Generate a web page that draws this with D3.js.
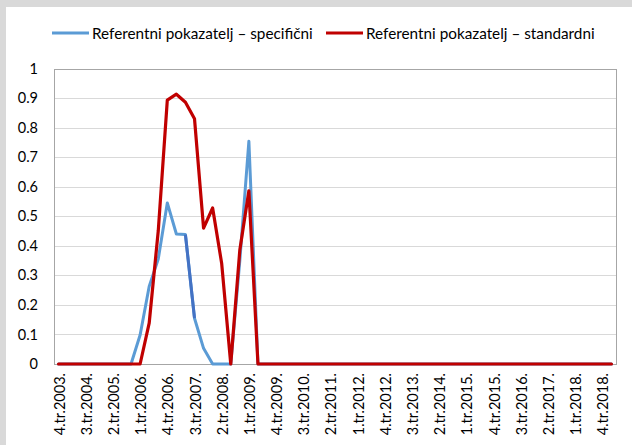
<!DOCTYPE html>
<html>
<head>
<meta charset="utf-8">
<script src="https://cdn.jsdelivr.net/npm/d3@7"></script>
<style>
  html, body { margin: 0; padding: 0; background: #ffffff; }
  svg { display: block; }
  text { font-family: Lato, "Open Sans", sans-serif; fill: #000; }
</style>
</head>
<body>
<svg id="chart" width="632" height="445"></svg>
<script>
const categories = [
  "4.tr.2003.","1.tr.2004.","2.tr.2004.","3.tr.2004.","4.tr.2004.",
  "1.tr.2005.","2.tr.2005.","3.tr.2005.","4.tr.2005.",
  "1.tr.2006.","2.tr.2006.","3.tr.2006.","4.tr.2006.",
  "1.tr.2007.","2.tr.2007.","3.tr.2007.","4.tr.2007.",
  "1.tr.2008.","2.tr.2008.","3.tr.2008.","4.tr.2008.",
  "1.tr.2009.","2.tr.2009.","3.tr.2009.","4.tr.2009.",
  "1.tr.2010.","2.tr.2010.","3.tr.2010.","4.tr.2010.",
  "1.tr.2011.","2.tr.2011.","3.tr.2011.","4.tr.2011.",
  "1.tr.2012.","2.tr.2012.","3.tr.2012.","4.tr.2012.",
  "1.tr.2013.","2.tr.2013.","3.tr.2013.","4.tr.2013.",
  "1.tr.2014.","2.tr.2014.","3.tr.2014.","4.tr.2014.",
  "1.tr.2015.","2.tr.2015.","3.tr.2015.","4.tr.2015.",
  "1.tr.2016.","2.tr.2016.","3.tr.2016.","4.tr.2016.",
  "1.tr.2017.","2.tr.2017.","3.tr.2017.","4.tr.2017.",
  "1.tr.2018.","2.tr.2018.","3.tr.2018.","4.tr.2018.",
  "1.tr.2019."
];

const seriesNames = ["Referentni pokazatelj – specifični", "Referentni pokazatelj – standardni"];

const specificni = [
  0,0,0,0,0,0,0,0,0,0.098,
  0.262,0.355,0.545,0.44,0.438,0.155,0.053,0,0,0,
  0.35,0.754,0,0,0,0,0,0,0,0,
  0,0,0,0,0,0,0,0,0,0,
  0,0,0,0,0,0,0,0,0,0,
  0,0,0,0,0,0,0,0,0,0,
  0,0
];

const standardni = [
  0,0,0,0,0,0,0,0,0,0,
  0.138,0.45,0.893,0.913,0.886,0.83,0.46,0.528,0.34,0,
  0.386,0.586,0,0,0,0,0,0,0,0,
  0,0,0,0,0,0,0,0,0,0,
  0,0,0,0,0,0,0,0,0,0,
  0,0,0,0,0,0,0,0,0,0,
  0,0
];

const yTicks = [0, 0.1, 0.2, 0.3, 0.4, 0.5, 0.6, 0.7, 0.8, 0.9, 1];
const yTickLabels = ["0","0.1","0.2","0.3","0.4","0.5","0.6","0.7","0.8","0.9","1"];
const labelEvery = 3;

const FS = "14.5px";
const svg = d3.select("#chart");
const W = 632, H = 445;

// outer frame (gray strips top/left)
svg.append("rect").attr("x", 0).attr("y", 0).attr("width", W).attr("height", H).attr("fill", "#d9d9d9");
svg.append("rect").attr("x", 6).attr("y", 7).attr("width", W - 6).attr("height", H - 7).attr("fill", "#ffffff");

const plot = { left: 54, right: 616, top: 68.5, bottom: 364 };

const x = d3.scalePoint().domain(categories).range([plot.left, plot.right]).padding(0.5);
const y = d3.scaleLinear().domain([0, 1]).range([plot.bottom, plot.top]);

// gridlines
svg.append("g").selectAll("line").data(yTicks.filter(v => v > 0 && v < 1)).join("line")
  .attr("x1", plot.left).attr("x2", plot.right)
  .attr("y1", d => Math.round(y(d)) + 0.5).attr("y2", d => Math.round(y(d)) + 0.5)
  .attr("stroke", "#d9d9d9").attr("stroke-width", 1);

// plot border
svg.append("rect")
  .attr("x", plot.left + 0.5).attr("y", Math.round(plot.top) + 0.5)
  .attr("width", plot.right - plot.left).attr("height", plot.bottom - Math.round(plot.top))
  .attr("fill", "none").attr("stroke", "#a6a6a6").attr("stroke-width", 1);

// y axis labels
const yAxis = d3.axisLeft(y).tickValues(yTicks).tickSize(0).tickPadding(16)
  .tickFormat((d, i) => yTickLabels[i]);
const yg = svg.append("g").attr("transform", `translate(${plot.left},0)`).call(yAxis);
yg.select(".domain").remove();
yg.selectAll("text").style("font-size", FS).style("font-family", "Lato, sans-serif").attr("fill", "#000");

// x axis
const xAxis = d3.axisBottom(x).tickSize(0)
  .tickValues(categories.filter((c, i) => i % labelEvery === 0));
const xg = svg.append("g").attr("transform", `translate(0,${plot.bottom})`).call(xAxis);
xg.select(".domain").attr("stroke", "#a6a6a6");
xg.selectAll("text")
  .style("font-size", FS).style("font-family", "Lato, sans-serif").attr("fill", "#000")
  .attr("text-anchor", "end")
  .attr("dy", null)
  .attr("y", 0)
  .attr("transform", "translate(0,9) rotate(-90)")
  .attr("x", 0)
  .attr("dominant-baseline", "central");

// lines
const line = d3.line().x((d, i) => x(categories[i])).y(d => y(d));

svg.append("path").datum(specificni)
  .attr("d", line).attr("fill", "none")
  .attr("stroke", "#5b9bd5").attr("stroke-width", 3)
  .attr("stroke-linejoin", "round").attr("stroke-linecap", "round");

// darker blue segment (between 2.tr.2007. and 3.tr.2007.)
const segIdx = [14, 15];
svg.append("path").datum(segIdx)
  .attr("d", d3.line().x(i => x(categories[i])).y(i => y(specificni[i])))
  .attr("fill", "none").attr("stroke", "#4472c4").attr("stroke-width", 3)
  .attr("stroke-linecap", "butt");

svg.append("path").datum(standardni)
  .attr("d", line).attr("fill", "none")
  .attr("stroke", "#c00000").attr("stroke-width", 3.2)
  .attr("stroke-linejoin", "round").attr("stroke-linecap", "round");

// legend
const legend = [
  { name: seriesNames[0], color: "#5b9bd5", x0: 52 },
  { name: seriesNames[1], color: "#c00000", x0: 326 }
];
const lg = svg.append("g");
legend.forEach(l => {
  lg.append("line").attr("x1", l.x0).attr("x2", l.x0 + 37).attr("y1", 33).attr("y2", 33)
    .attr("stroke", l.color).attr("stroke-width", 3);
  lg.append("text").attr("x", l.x0 + 40).attr("y", 33).attr("dominant-baseline", "central")
    .style("font-size", "15.3px").text(l.name);
});
</script>
</body>
</html>
